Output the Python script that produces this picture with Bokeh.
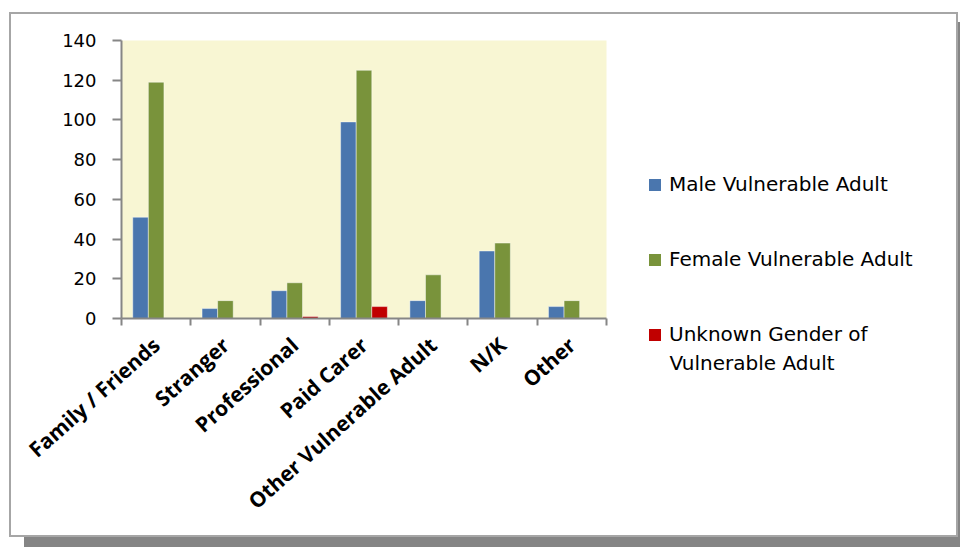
from bokeh.plotting import figure
from bokeh.models import (ColumnDataSource, FixedTicker, Legend, LegendItem, Range1d, Label)
from bokeh.embed import file_html
from bokeh.resources import INLINE

categories = ["Family / Friends", "Stranger", "Professional", "Paid Carer",
              "Other Vulnerable Adult", "N/K", "Other"]
male = [51, 5, 14, 99, 9, 34, 6]
female = [119, 9, 18, 125, 22, 38, 9]
unknown = [0, 0, 1, 6, 0, 0, 0]
series_names = ["Male Vulnerable Adult", "Female Vulnerable Adult", "Unknown Gender of"]
series_name_cont = "Vulnerable Adult"
y_ticks = [0, 20, 40, 60, 80, 100, 120, 140]

colors = ["#4A76AE", "#79933B", "#C00000"]
FONT = "Open Sans"
LFONT = "DejaVu Sans"
BORDER = "2px solid #A6A6A6"
SHADOW = "15px 10px 0 0 #858585"

centers = [2 * i + 1 for i in range(len(categories))]
bounds = [2 * i for i in range(len(categories) + 1)]
bw = 0.45
series = [male, female, unknown]

# ---- chart ----
p = figure(width=616, height=525, output_backend="svg", toolbar_location=None,
           x_range=Range1d(0, 2 * len(categories)), y_range=Range1d(0, 140),
           min_border_left=110, min_border_right=21, min_border_top=26,
           min_border_bottom=221)
p.styles = {"position": "absolute", "left": "9px", "top": "12px",
            "border-left": BORDER, "border-top": BORDER, "border-bottom": BORDER,
            "box-shadow": SHADOW}
p.background_fill_color = "#F8F6D3"
p.border_fill_color = "white"
p.outline_line_color = None
p.xgrid.visible = False
p.ygrid.visible = False

for k, (vals, off) in enumerate(zip(series, [-bw, 0, bw])):
    src = ColumnDataSource(dict(x=[c + off for c in centers], top=vals))
    p.vbar(x="x", top="top", width=bw, bottom=0, source=src,
           fill_color=colors[k], line_color="white", line_alpha=0.45,
           line_width=1)

xa = p.xaxis[0]
xa.ticker = FixedTicker(ticks=centers, minor_ticks=bounds)
xa.major_label_overrides = {c: name for c, name in zip(centers, categories)}
xa.major_label_orientation = 0.73
xa.major_tick_out = 0
xa.major_tick_in = 0
xa.minor_tick_out = 7
xa.minor_tick_in = 0
xa.minor_tick_line_color = "#868686"
xa.minor_tick_line_width = 2
xa.axis_line_color = "#868686"
xa.axis_line_width = 2
xa.major_label_standoff = 16
xa.major_label_text_font = FONT
xa.major_label_text_font_style = "bold"
xa.major_label_text_font_size = "21px"
xa.major_label_text_color = "black"

ya = p.yaxis[0]
ya.ticker = FixedTicker(ticks=y_ticks)
ya.major_tick_out = 9
ya.major_tick_in = 0
ya.minor_tick_line_color = None
ya.major_tick_line_color = "#868686"
ya.major_tick_line_width = 2
ya.axis_line_color = "#868686"
ya.axis_line_width = 2
ya.major_label_standoff = 16
ya.major_label_text_font = LFONT
ya.major_label_text_font_size = "18px"
ya.major_label_text_color = "black"

# ---- legend panel (separate root, placed to the right) ----
q = figure(width=335, height=525, output_backend="svg", toolbar_location=None,
           x_axis_type=None, y_axis_type=None,
           x_range=Range1d(0, 2 * len(categories)), y_range=Range1d(1000, 1001),
           min_border_left=0, min_border_right=0, min_border_top=0,
           min_border_bottom=0)
q.styles = {"position": "absolute", "left": "623px", "top": "12px",
            "border-right": BORDER, "border-top": BORDER, "border-bottom": BORDER,
            "box-shadow": SHADOW}
q.background_fill_color = "white"
q.border_fill_color = "white"
q.outline_line_color = None
q.xgrid.visible = False
q.ygrid.visible = False

leg_renderers = []
for k, vals in enumerate(series):
    src = ColumnDataSource(dict(x=centers, top=vals))
    r = q.vbar(x="x", top="top", width=bw, bottom=0, source=src,
               fill_color=colors[k], line_color=None)
    leg_renderers.append(r)

legend = Legend(items=[LegendItem(label=n, renderers=[r])
                       for n, r in zip(series_names, leg_renderers)],
                location=(24, 193))
legend.background_fill_alpha = 0
legend.border_line_color = None
legend.padding = 0
legend.margin = 0
legend.spacing = 51
legend.glyph_width = 15
legend.glyph_height = 15
legend.label_text_font = LFONT
legend.label_text_font_size = "20px"
legend.label_text_color = "black"
legend.label_standoff = 7
q.add_layout(legend, "center")

q.add_layout(Label(x=46, y=177, x_units="screen", y_units="screen",
                   text=series_name_cont, text_font=LFONT, text_font_size="20px",
                   text_color="black", text_baseline="middle", text_align="left"))

open("out.html", "w").write(file_html([p, q], INLINE))
